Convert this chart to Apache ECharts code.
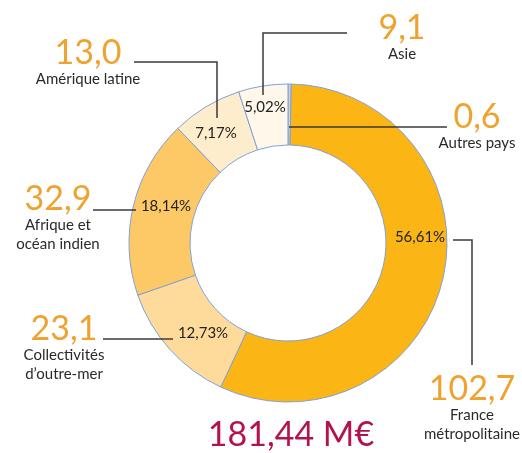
<!DOCTYPE html>
<html>
<head>
<meta charset="utf-8">
<script src="https://cdn.jsdelivr.net/npm/echarts@6/dist/echarts.min.js"></script>
<style>
  html, body { margin: 0; padding: 0; background: #fff; }
  #chart { width: 522px; height: 453px; }
</style>
</head>
<body>
<div id="chart"></div>
<script>
// --- données ---
const regions = ['Autres pays', 'France\nmétropolitaine', 'Collectivités\nd\u2019outre-mer', 'Afrique et\nocéan indien', 'Amérique latine', 'Asie'];
const amounts = [0.6, 102.7, 23.1, 32.9, 13.0, 9.1];      // M€
const shares = [0.33, 56.61, 12.73, 18.14, 7.17, 5.02];   // %
const total = '181,44 M€';
const colors = ['#C9D3E0', '#FBB515', '#FEDB9A', '#FDC966', '#FEEDCC', '#FFF7EA'];

// --- mise en page ---
const center = [288, 243];
const pctPos = [null, [420, 237], [203, 333], [166, 206], [216, 133], [265, 107]];
const notePos = [[477, 117], [472, 389], [64, 329], [58, 199], [88, 53], [402, 28]];
const leaders = [
  [[289, 127], [447, 127]],
  [[453, 240], [472, 240], [472, 365]],
  [[103, 339], [173, 339]],
  [[93, 210], [136, 210]],
  [[134, 62], [217, 62], [217, 118]],
  [[347, 33], [263, 33], [263, 95]],
];

const fmt = v => v.toFixed(1).replace('.', ',');
const FONT = 'Lato, "Open Sans", sans-serif';

const graphics = [];
regions.forEach((name, i) => {
  graphics.push({
    type: 'polyline', silent: true, z: 10,
    shape: { points: leaders[i] },
    style: { stroke: '#3a3a3a', lineWidth: 1.5, fill: null },
  });
  graphics.push({
    type: 'text', x: notePos[i][0], y: notePos[i][1], z: 10,
    style: { text: fmt(amounts[i]), fill: '#F0A22E', font: '34px ' + FONT, align: 'center', verticalAlign: 'middle' },
  });
  graphics.push({
    type: 'text', x: notePos[i][0], y: notePos[i][1] + 17, z: 10,
    style: { text: name, fill: '#2a2a2a', font: '15px ' + FONT, align: 'center', verticalAlign: 'top', lineHeight: 19 },
  });
});
graphics.push({
  type: 'text', x: 291, y: 435,
  style: { text: total, fill: '#B3124F', font: '34px ' + FONT, align: 'center', verticalAlign: 'middle' },
});

const chart = echarts.init(document.getElementById('chart'));
chart.setOption({
  animation: false,
  graphic: graphics,
  series: [{
    type: 'pie',
    center: center,
    radius: [98, 159],
    startAngle: 90,
    clockwise: true,
    avoidLabelOverlap: false,
    itemStyle: { borderColor: '#7FA1D5', borderWidth: 1 },
    label: {
      show: true,
      position: 'inside',
      color: '#222',
      fontFamily: FONT,
      fontSize: 15,
      formatter: p => shares[p.dataIndex].toFixed(2).replace('.', ',') + '%',
    },
    labelLine: { show: false },
    labelLayout: p => pctPos[p.dataIndex]
      ? { x: pctPos[p.dataIndex][0], y: pctPos[p.dataIndex][1], align: 'center', verticalAlign: 'middle' }
      : { x: -100, y: -100 },
    emphasis: { disabled: true },
    data: regions.map((n, i) => ({
      name: n,
      value: amounts[i],
      itemStyle: { color: colors[i] },
      label: { show: i !== 0 },
    })),
  }],
});
</script>
</body>
</html>
